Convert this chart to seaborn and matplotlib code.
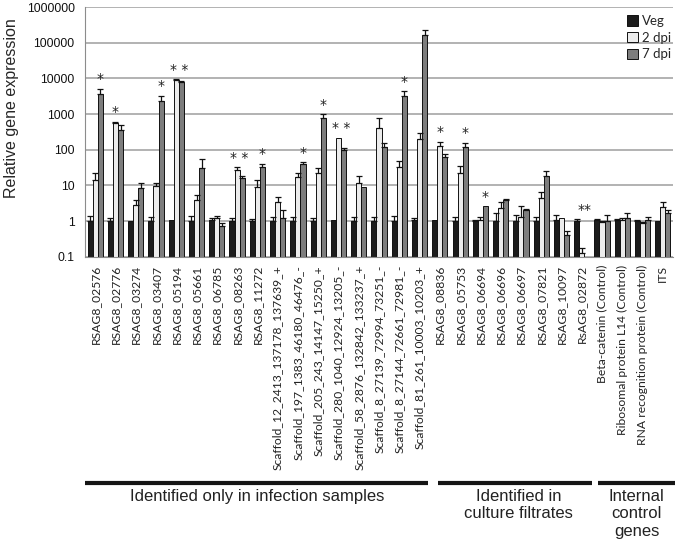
import numpy as np
import pandas as pd
import matplotlib
matplotlib.use("Agg")
import matplotlib.pyplot as plt
import matplotlib.transforms as mtransforms
from matplotlib.ticker import FixedLocator, FixedFormatter
import seaborn as sns

# ---- data ----
genes = [
    "RSAG8_02576", "RSAG8_02776", "RSAG8_03274", "RSAG8_03407", "RSAG8_05194",
    "RSAG8_05661", "RSAG8_06785", "RSAG8_08263", "RSAG8_11272",
    "Scaffold_12_2413_137178_137639_+", "Scaffold_197_1383_46180_46476_-",
    "Scaffold_205_243_14147_15250_+", "Scaffold_280_1040_12924_13205_-",
    "Scaffold_58_2876_132842_133237_+", "Scaffold_8_27139_72994_73251_-",
    "Scaffold_8_27144_72661_72981_-", "Scaffold_81_261_10003_10203_+",
    "RSAG8_08836", "RSAG8_05753", "RSAG8_06694", "RSAG8_06696", "RSAG8_06697",
    "RSAG8_07821", "RSAG8_10097", "RsAG8_02872",
    "Beta-catenin (Control)", "Ribosomal protein L14 (Control)",
    "RNA recognition protein (Control)", "ITS",
]
stages = ["Veg", "2 dpi", "7 dpi"]

veg = [1.0, 1.0, 1.0, 1.0, 1.1, 1.0, 1.1, 1.0, 1.0, 1.0, 1.0, 1.0, 1.05, 1.0, 1.0,
       1.0, 1.05, 1.1, 1.0, 1.0, 1.0, 1.0, 1.0, 1.1, 1.0, 1.05, 1.05, 1.0, 1.0]
veg_sd = [0.4, 0.25, 0.0, 0.3, 0.0, 0.35, 0.1, 0.2, 0.15, 0.3, 0.3, 0.25, 0.0, 0.3, 0.3,
          0.4, 0.2, 0.0, 0.3, 0.1, 0.7, 0.45, 0.3, 0.35, 0.15, 0.1, 0.1, 0.05, 0.0]
dpi2 = [14, 550, 2.8, 9.5, 9300, 3.9, 1.25, 27, 8.9, 3.4, 17, 23, 220, 11.5, 420,
        32, 200, 125, 23, 1.05, 2.3, 1.3, 4.4, 1.25, 0.13, 0.95, 1.1, 0.9, 2.5]
dpi2_sd = [8, 70, 1.1, 2, 500, 1.4, 0.15, 5, 5, 1.3, 6, 7, 0, 7.5, 380,
           15, 100, 45, 12, 0.25, 1.1, 1.3, 2.1, 0, 0.05, 0.05, 0.1, 0.05, 0.9]
dpi7 = [3760, 370, 8.4, 2400, 8100, 30, 0.75, 16, 32, 1.2, 39, 800, 96, 9, 117,
        3300, 167000, 61, 117, 2.6, 4.0, 2.1, 18, 0.41, 0.09, 1.0, 1.2, 1.1, 1.7]
dpi7_sd = [1440, 140, 3.1, 900, 200, 24, 0.12, 2.5, 9, 0.8, 6, 230, 14, 0, 43,
           1100, 63000, 14, 43, 0, 0.2, 0.1, 7, 0.12, 0, 0.5, 0.5, 0.2, 0.4]

# significance marks: (gene index, bars it sits over, text)
stars = [
    (0, ["7 dpi"], "*"), (1, ["2 dpi"], "*"), (3, ["7 dpi"], "*"),
    (4, ["2 dpi", "7 dpi"], "* *"), (7, ["2 dpi", "7 dpi"], "* *"),
    (8, ["7 dpi"], "*"), (10, ["7 dpi"], "*"), (11, ["7 dpi"], "*"),
    (12, ["2 dpi", "7 dpi"], "* *"), (15, ["7 dpi"], "*"),
    (17, ["2 dpi"], "*"), (18, ["7 dpi"], "*"), (19, ["7 dpi"], "*"),
    (24, ["2 dpi", "7 dpi"], "**"),
]

groups = ["Identified only in infection samples",
          "Identified in\nculture filtrates",
          "Internal\ncontrol\ngenes"]
group_spans = [(-0.5, 16.4), (16.9, 24.5), (24.8, 28.6)]
group_centers = [8.0, 20.9, 26.7]

yticks = [0.1, 1, 10, 100, 1000, 10000, 100000, 1000000]
ytick_labels = ["0.1", "1", "10", "100", "1000", "10000", "100000", "1000000"]

# ---- long table ----
df = pd.DataFrame({
    "gene": genes * 3,
    "stage": np.repeat(stages, len(genes)),
    "value": veg + dpi2 + dpi7,
    "sd": veg_sd + dpi2_sd + dpi7_sd,
})

colors = {"Veg": "#1c1c1c", "2 dpi": "#ececec", "7 dpi": "#7d7d7d"}

sns.set_style("white")
plt.rcParams["font.family"] = ["Liberation Sans", "DejaVu Sans"]

fig = plt.figure(figsize=(6.75, 5.51), dpi=100)
ax = fig.add_axes([0.126, 0.534, 0.871, 0.453])

sns.barplot(data=df, x="gene", y="value", hue="stage", hue_order=stages,
            palette=colors, width=0.75, edgecolor="#111111", linewidth=0.7,
            errorbar=None, ax=ax)
ax.set_yscale("log")
ax.set_ylim(0.1, 1000000)
ax.set_xlim(-0.5, len(genes) - 0.5)

# error bars (upper only) on each bar
tops = np.zeros((len(stages), len(genes)))
xpos = np.zeros((len(stages), len(genes)))
for si, (stage, cont) in enumerate(zip(stages, ax.containers)):
    sub = df[df["stage"] == stage]
    for gi, bar in enumerate(cont):
        xc = bar.get_x() + bar.get_width() / 2
        v = sub["value"].iloc[gi]
        e = sub["sd"].iloc[gi]
        xpos[si, gi] = xc
        tops[si, gi] = v + e
        if e > 0 and v > 0.1:
            ax.errorbar(xc, v, yerr=[[0], [e]], fmt="none", ecolor="#111111",
                        elinewidth=0.9, capsize=2.5, capthick=0.9, zorder=4)

for gi, over, txt in stars:
    idx = [stages.index(s) for s in over]
    xc = np.mean(xpos[idx, gi])
    y = tops[:, gi].max() * 1.15
    ax.text(xc, y, txt, ha="center", va="bottom", fontsize=10,
            color="#222222", family="DejaVu Sans")

# axes styling
ax.yaxis.grid(True, color="#a6a6a6", linewidth=1.2)
ax.set_axisbelow(True)
for side in ["top", "right"]:
    ax.spines[side].set_visible(False)
ax.spines["left"].set_color("#8c8c8c")
ax.spines["bottom"].set_color("#8c8c8c")
ax.yaxis.set_major_locator(FixedLocator(yticks))
ax.yaxis.set_major_formatter(FixedFormatter(ytick_labels))
ax.yaxis.set_minor_locator(FixedLocator([]))
ax.tick_params(axis="y", which="major", length=3, color="#8c8c8c",
               labelsize=8.7, labelcolor="#111111", pad=4.5)

ax.set_xticks(range(len(genes)))
ax.set_xticklabels(genes, rotation=90, family="Lato", fontsize=8.7, color="#222222")
ax.xaxis.set_minor_locator(FixedLocator(np.arange(-0.5, len(genes), 1.0)))
ax.tick_params(axis="x", which="major", length=0, pad=6)
ax.tick_params(axis="x", which="minor", length=5, color="#8c8c8c")
ax.set_xlabel("")
ax.set_ylabel("Relative gene expression", fontsize=11.5)
ax.yaxis.set_label_coords(-0.113, 0.595)

# legend
handles, labels = ax.get_legend_handles_labels()
leg = ax.legend(handles, labels, loc="upper right", bbox_to_anchor=(1.01, 1.0),
                frameon=False, fontsize=9.5, handlelength=0.8, handleheight=0.8,
                handletextpad=0.3, labelspacing=0.35, borderaxespad=0.2)
for t in leg.get_texts():
    t.set_family("Lato")

# group brackets and labels under the axis
trans = mtransforms.blended_transform_factory(ax.transData, ax.transAxes)
for (x0, x1), name, xc in zip(group_spans, groups, group_centers):
    ax.plot([x0, x1], [-0.905, -0.905], color="#151515", linewidth=3,
            transform=trans, clip_on=False, solid_capstyle="butt")
    ax.text(xc, -0.93, name, transform=trans, ha="center", va="top",
            fontsize=12, color="#222222", linespacing=1.2)

fig.savefig("out.png", dpi=100)
